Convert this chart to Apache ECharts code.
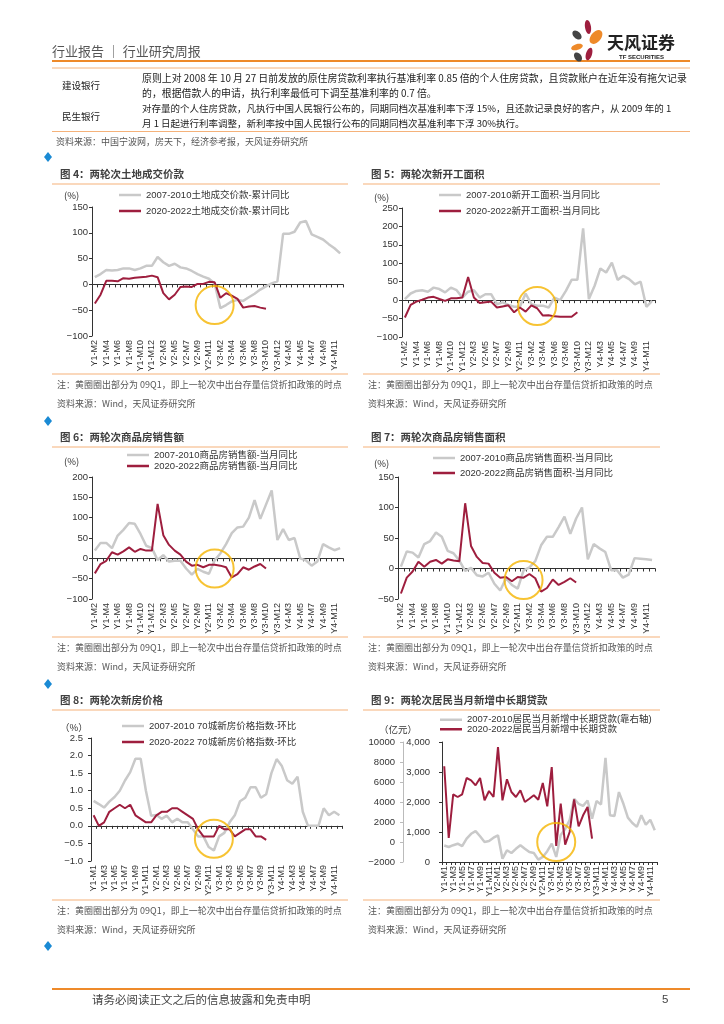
<!DOCTYPE html>
<html><head><meta charset="utf-8">
<script src="https://cdn.jsdelivr.net/npm/echarts@6/dist/echarts.min.js"></script>
<style>html,body{margin:0;padding:0;background:#fff}#c{width:724px;height:1024px}</style>
</head><body><div id="c"></div>
<script>
// ---------- categories ----------
const catsA = ['Y1-M2','Y1-M3','Y1-M4','Y1-M5','Y1-M6','Y1-M7','Y1-M8','Y1-M9','Y1-M10','Y1-M11','Y1-M12',
  'Y2-M2','Y2-M3','Y2-M4','Y2-M5','Y2-M6','Y2-M7','Y2-M8','Y2-M9','Y2-M10','Y2-M11','Y2-M12',
  'Y3-M2','Y3-M3','Y3-M4','Y3-M5','Y3-M6','Y3-M7','Y3-M8','Y3-M9','Y3-M10','Y3-M11','Y3-M12',
  'Y4-M2','Y4-M3','Y4-M4','Y4-M5','Y4-M6','Y4-M7','Y4-M8','Y4-M9','Y4-M10','Y4-M11','Y4-M12'];
const catsB = ['Y1-M1','Y1-M2','Y1-M3','Y1-M4','Y1-M5','Y1-M6','Y1-M7','Y1-M8','Y1-M9','Y1-M10','Y1-M11','Y1-M12',
  'Y2-M1','Y2-M2','Y2-M3','Y2-M4','Y2-M5','Y2-M6','Y2-M7','Y2-M8','Y2-M9','Y2-M10','Y2-M11','Y2-M12',
  'Y3-M1','Y3-M2','Y3-M3','Y3-M4','Y3-M5','Y3-M6','Y3-M7','Y3-M8','Y3-M9','Y3-M10','Y3-M11','Y3-M12',
  'Y4-M1','Y4-M2','Y4-M3','Y4-M4','Y4-M5','Y4-M6','Y4-M7','Y4-M8','Y4-M9','Y4-M10','Y4-M11','Y4-M12'];

// ---------- series values ----------
const land0710 = [14,20,28,27,28,31,31,28,31,36,36,53,43,36,40,33,31,26,20,15,11,2,-46,-40,-33,-30,-32,-25,-18,-10,-4,2,6,98,98,102,120,123,97,92,87,78,70,60];
const land2022 = [-37,-20,7,7,6,12,11,13,14,15,17,14,-17,-29,-20,-5,-4,-5,1,1,5,4,-26,-17,-22,-28,-45,-43,-42,-45,-47];

const start0710 = [3,18,25,27,23,34,30,21,34,27,7,23,27,7,16,16,-11,-6,-13,-18,-18,18,-11,-15,-15,-20,7,0,25,55,55,195,3,39,86,75,102,55,66,57,43,50,-18,-2];
const start2022 = [-47,-13,-4,1,7,9,3,-2,5,5,7,63,7,-8,-6,-4,-20,-17,-14,-33,-20,-31,-14,-22,-42,-41,-44,-45,-45,-45,-33];

const salesAmt0710 = [19,38,38,25,56,70,87,85,60,31,25,-4,8,-8,-6,-6,-25,-40,-26,-33,-38,-5,12,35,62,76,78,100,143,97,132,167,45,72,45,50,0,-5,-18,-8,35,27,20,25];
const salesAmt2022 = [-37,-14,-6,15,9,17,27,16,23,19,19,134,57,33,19,9,-8,-18,-16,-22,-16,-16,-18,-22,-47,-39,-22,-28,-20,-14,-25];

const salesArea0710 = [3,28,26,18,40,45,59,52,29,25,13,-4,1,-11,-13,-7,-25,-36,-16,-27,-33,-3,2,12,38,52,52,68,85,57,82,100,15,40,33,27,-3,-3,-15,-10,17,16,15,14];
const salesArea2022 = [-41,-15,-5,11,3,11,14,8,15,13,12,107,37,19,9,8,-7,-15,-14,-21,-14,-15,-9,-16,-38,-32,-18,-27,-22,-16,-23];

const price0710 = [0.71,0.62,0.52,0.69,0.82,1.0,1.29,1.53,1.91,1.91,1.0,0.29,0.31,0.2,0.29,0.1,0.2,0.1,0.1,-0.1,-0.3,-0.3,-0.6,-0.7,-0.3,-0.2,0.1,0.3,0.7,0.8,1.1,1.1,0.8,0.9,1.5,1.9,1.7,1.3,1.2,1.4,0.4,0,0,0,0.5,0.3,0.4,0.3];
const price2022 = [0.3,0.0,0.1,0.4,0.5,0.6,0.5,0.6,0.3,0.2,0.1,0.1,0.3,0.4,0.4,0.5,0.5,0.4,0.3,0.2,-0.1,-0.3,-0.3,-0.3,0.0,-0.1,-0.1,-0.3,-0.2,-0.1,-0.1,-0.3,-0.3,-0.4];

const loan0710 = [550,500,560,610,530,780,940,1030,860,670,700,810,890,110,390,300,440,560,440,330,300,80,170,360,610,170,900,1100,1400,2110,1940,1870,2050,1440,2030,1920,3470,1560,1530,2330,1940,1480,1300,1170,1560,1240,1410,1060];
const loan2022 = [7570,400,4770,4500,4770,6400,6170,5670,6400,4170,5100,4500,9500,4170,6270,5000,4500,5170,4000,4330,4670,4230,5900,3570,7500,-400,3830,-270,1000,4270,1570,2670,3500,330];

// highlighted (yellow circle) spots, in data units [category index, value]
const circle4 = [21.05, -40];
const circle5 = [23.1, -16];
const circle6 = [20.7, -25];
const circle7 = [20.9, -19];
const circle8 = [23.3, -0.37];
const circle9 = [25.2, 0];

// ---------- styling ----------
const FONT = 'Liberation Sans, "Noto Sans CJK SC", sans-serif';
const FCJK = '"Noto Sans CJK SC", Liberation Sans, sans-serif';
const GRAY = '#c9c9c9', RED = '#9e1e3e', CIRCLE = '#f5b400', AXIS = '#333333';
const ORANGE = '#ee8a2a', LORANGE = '#f5b27a';

const option = {animation:false, backgroundColor:'#fff', grid:[], xAxis:[], yAxis:[], series:[], legend:[], graphic:[]};
const G = option.graphic;
function minus(v){ return String(v).replace('-', '\u2212'); }
function txt(x,y,s,size,color,extra){ G.push({type:'text', x:x, y:y, silent:true, style:Object.assign({text:s, fontSize:size, fontFamily:FCJK, fill:color, verticalAlign:'middle', align:'left'}, extra||{})}); }
function hline(x1,x2,y,color,w){ G.push({type:'line', silent:true, shape:{x1:x1,y1:y,x2:x2,y2:y}, style:{stroke:color, lineWidth:w}}); }
function diamond(x,y){ G.push({type:'polygon', silent:true, shape:{points:[[x,y-5],[x+4,y],[x,y+5],[x-4,y]]}, style:{fill:'#1a8ad4'}}); }

function yAx(g, a){
  return {type:'value', gridIndex:g, position:'left', offset:a.offset||0, min:a.min, max:a.max, interval:a.interval,
    splitLine:{show:false},
    axisLine:{show:true, onZero:false, lineStyle:{color:a.lineColor||AXIS, width:1}},
    axisTick:{show:true, length:3, lineStyle:{color:a.lineColor||AXIS}},
    axisLabel:{fontSize:9.5, color:'#333', margin:a.margin||4, fontFamily:FONT, formatter:a.formatter||minus}};
}

function addChart(c){
  const g = option.grid.length;
  option.grid.push({left:c.left, top:c.top, width:c.width, height:c.height});
  const xMain = option.xAxis.length;
  option.xAxis.push({type:'category', gridIndex:g, data:c.cats, boundaryGap:true, position:'bottom',
    axisLine:{show:!!c.bottomLine, onZero:false, lineStyle:{color:AXIS}},
    axisTick:{show:!!c.bottomLine, interval:0, length:3, lineStyle:{color:AXIS}},
    axisLabel:{rotate:90, interval:1, fontSize:9, color:'#333', margin:4, fontFamily:FONT}});
  if(!c.bottomLine){
    option.xAxis.push({type:'category', gridIndex:g, data:c.cats, boundaryGap:true, position:'bottom',
      axisLine:{show:true, onZero:true, lineStyle:{color:AXIS}},
      axisTick:{show:true, interval:0, length:3, lineStyle:{color:AXIS}},
      axisLabel:{show:false}});
  }
  const y0 = option.yAxis.length;
  c.yAxes.forEach(a => option.yAxis.push(yAx(g, a)));
  option.series.push({name:c.names[0], type:'line', xAxisIndex:xMain, yAxisIndex:y0 + (c.grayAxis||0), data:c.gray,
    symbol:'none', lineStyle:{color:GRAY, width:2.5}, itemStyle:{color:GRAY}, z:2});
  option.series.push({name:c.names[1], type:'line', xAxisIndex:xMain, yAxisIndex:y0, data:c.red,
    symbol:'none', lineStyle:{color:RED, width:2}, itemStyle:{color:RED}, z:3});
  option.series.push({type:'scatter', xAxisIndex:xMain, yAxisIndex:y0, data:[c.circle], symbol:'circle', symbolSize:c.cs||38,
    itemStyle:{color:'rgba(0,0,0,0)', borderColor:CIRCLE, borderWidth:2}, silent:true, z:5});
  option.legend.push({left:c.lg[0], top:c.lg[1], orient:'vertical', icon:'rect', itemWidth:22, itemHeight:2.5,
    itemGap:c.lg[3], selectedMode:false, padding:0, data:c.names,
    textStyle:{fontSize:9.5, color:'#333', fontFamily:FONT, lineHeight:c.lg[2]}});
}

addChart({left:92, top:207, width:251, height:129, cats:catsA,
  yAxes:[{min:-100,max:150,interval:50}], gray:land0710, red:land2022, circle:circle4,
  names:['2007-2010土地成交价款-累计同比','2020-2022土地成交价款-累计同比'], lg:[119,189,12,4]});
addChart({left:402, top:208, width:253, height:129, cats:catsA,
  yAxes:[{min:-100,max:250,interval:50}], gray:start0710, red:start2022, circle:circle5,
  names:['2007-2010新开工面积-当月同比','2020-2022新开工面积-当月同比'], lg:[439,189,12,4]});
addChart({left:92, top:477, width:251, height:122, cats:catsA,
  yAxes:[{min:-100,max:200,interval:50}], gray:salesAmt0710, red:salesAmt2022, circle:circle6,
  names:['2007-2010商品房销售额-当月同比','2020-2022商品房销售额-当月同比'], lg:[127,449.5,11,0]});
addChart({left:398, top:477, width:257, height:122, cats:catsA,
  yAxes:[{min:-50,max:150,interval:50}], gray:salesArea0710, red:salesArea2022, circle:circle7,
  names:['2007-2010商品房销售面积-当月同比','2020-2022商品房销售面积-当月同比'], lg:[433,452,12,3]});
addChart({left:91, top:738, width:251, height:123, cats:catsB,
  yAxes:[{min:-1,max:2.5,interval:0.5, margin:8, formatter:v => minus(v.toFixed(1))}], gray:price0710, red:price2022, circle:circle8,
  names:['2007-2010 70城新房价格指数-环比','2020-2022 70城新房价格指数-环比'], lg:[122,720,12,4]});
addChart({left:442, top:742, width:215, height:120, cats:catsB, bottomLine:true, grayAxis:1,
  yAxes:[{min:-2000,max:10000,interval:2000, offset:39, margin:8, lineColor:'#bbbbbb'},
         {min:0,max:4000,interval:1000, margin:12, formatter:v => v.toLocaleString('en-US')}],
  gray:loan0710, red:loan2022, circle:circle9,
  names:['2007-2010居民当月新增中长期贷款(靠右轴)','2020-2022居民当月新增中长期贷款'], lg:[440,715,9.5,0]});

// ---------- page text & decoration ----------
// header
txt(52, 51, '行业报告 ｜ 行业研究周报', 13, '#555555');
hline(52, 690, 61, ORANGE, 2);
// logo
const petals = [[588,27,3,7,0.15,RED],[596,37,5,8,-0.7,ORANGE],[577,35,3.5,5.5,0.8,'#444'],[577,47,6,3,0.3,ORANGE],[589,54,3,6.5,-0.3,RED],[578,57,3.5,5,0.6,'#444']];
petals.forEach(p => G.push({type:'ellipse', silent:true, x:p[0], y:p[1], rotation:p[4], shape:{cx:0,cy:0,rx:p[2],ry:p[3]}, style:{fill:p[5]}}));
txt(607, 43, '天风证券', 17, '#222', {fontWeight:'bold'});
txt(619, 57, 'TF SECURITIES', 6, '#222', {fontWeight:'bold', fontFamily:FONT});
// table
hline(52, 690, 68, LORANGE, 1);
txt(62, 85.5, '建设银行', 9.5, '#222');
txt(142, 78, '原则上对 2008 年 10 月 27 日前发放的原住房贷款利率执行基准利率 0.85 倍的个人住房贷款，且贷款账户在近年没有拖欠记录', 9.9, '#222');
txt(142, 93, '的，根据借款人的申请，执行利率最低可下调至基准利率的 0.7 倍。', 9.9, '#222');
txt(62, 116, '民生银行', 9.5, '#222');
txt(142, 108.5, '对存量的个人住房贷款，凡执行中国人民银行公布的，同期同档次基准利率下浮 15%，且还款记录良好的客户，从 2009 年的 1', 9.5, '#222');
txt(142, 123.5, '月 1 日起进行利率调整，新利率按中国人民银行公布的同期同档次基准利率下浮 30%执行。', 9.5, '#222');
hline(52, 690, 131.5, LORANGE, 1);
txt(56, 141.5, '资料来源：中国宁波网，房天下，经济参考报，天风证券研究所', 9, '#555');
diamond(48, 157);

// chart blocks
const NOTE = '注：黄圈圈出部分为 09Q1，即上一轮次中出台存量信贷折扣政策的时点';
const SRC = '资料来源：Wind，天风证券研究所';
function block(x, x2, titleY, title, unit, unitX, unitY, bottomY){
  txt(x + 8, titleY, title, 10.5, '#404040', {fontWeight:'bold'});
  hline(x, x2, titleY + 10, LORANGE, 1.2);
  txt(unitX, unitY, unit, 9.5, '#333');
  hline(x, x2, bottomY, LORANGE, 1.2);
  txt(x + 5, bottomY + 11, NOTE, 9, '#555');
  txt(x + 5, bottomY + 30, SRC, 9, '#555');
}
block(52, 348, 174, '图 4：两轮次土地成交价款', '(%)', 64, 195, 374);
block(363, 660, 174, '图 5：两轮次新开工面积', '(%)', 374, 197, 374);
diamond(48, 421);
block(52, 348, 437, '图 6：两轮次商品房销售额', '(%)', 64, 461, 637);
block(363, 660, 437, '图 7：两轮次商品房销售面积', '(%)', 374, 463, 637);
diamond(48, 684);
block(52, 348, 700, '图 8：两轮次新房价格', '（%）', 60, 727, 900);
block(363, 660, 700, '图 9：两轮次居民当月新增中长期贷款', '（亿元）', 379, 729, 900);
diamond(48, 946);
// footer
hline(52, 690, 989, ORANGE, 2);
txt(92, 1000, '请务必阅读正文之后的信息披露和免责申明', 11.5, '#444');
txt(662, 1000, '5', 11.5, '#444', {fontFamily:FONT});

const chart = echarts.init(document.getElementById('c'), null, {renderer:'canvas', width:724, height:1024});
chart.setOption(option);
</script>
</body></html>
